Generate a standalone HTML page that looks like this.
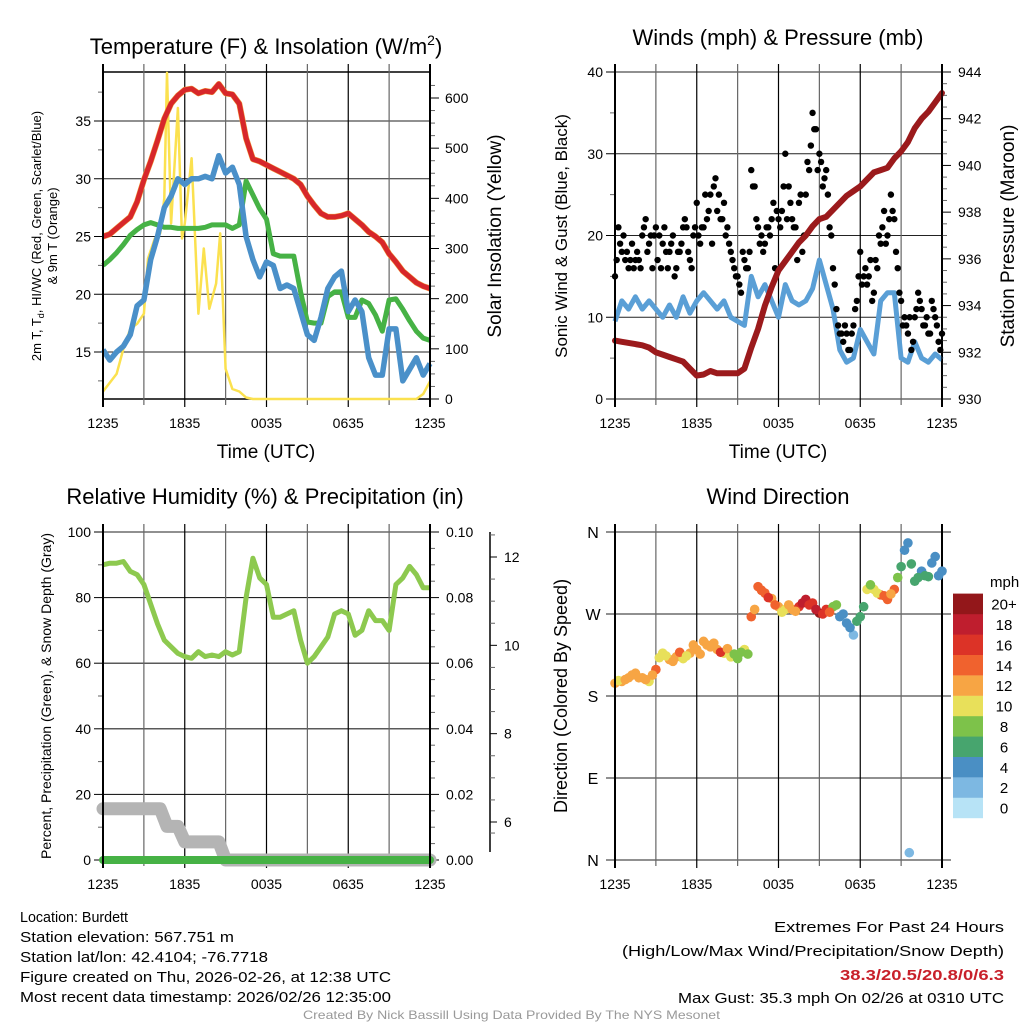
<!DOCTYPE html>
<html><head><meta charset="utf-8"><style>
html,body{margin:0;padding:0;background:#fff;}
svg{display:block;font-family:"Liberation Sans",sans-serif;}
</style></head><body>
<svg id="chart" width="1024" height="1024" viewBox="0 0 1024 1024" xmlns="http://www.w3.org/2000/svg">
<rect width="1024" height="1024" fill="#fff"/>
<g id="g-tl"></g>
<g id="g-tr"></g>
<g id="g-bl"></g>
<g id="g-br"></g>
<g id="g-txt">
<text x="20" y="922" font-size="15" textLength="108" lengthAdjust="spacingAndGlyphs">Location: Burdett</text>
<text x="20" y="942" font-size="15" textLength="214" lengthAdjust="spacingAndGlyphs">Station elevation: 567.751 m</text>
<text x="20" y="962" font-size="15" textLength="248" lengthAdjust="spacingAndGlyphs">Station lat/lon: 42.4104; -76.7718</text>
<text x="20" y="982" font-size="15" textLength="371" lengthAdjust="spacingAndGlyphs">Figure created on Thu, 2026-02-26, at 12:38 UTC</text>
<text x="20" y="1002" font-size="15" textLength="371" lengthAdjust="spacingAndGlyphs">Most recent data timestamp: 2026/02/26 12:35:00</text>
<text x="774" y="932" font-size="15" textLength="230" lengthAdjust="spacingAndGlyphs">Extremes For Past 24 Hours</text>
<text x="622" y="956" font-size="15" textLength="382" lengthAdjust="spacingAndGlyphs">(High/Low/Max Wind/Precipitation/Snow Depth)</text>
<text x="840" y="980" font-size="15" font-weight="bold" fill="#c8202a" textLength="164" lengthAdjust="spacingAndGlyphs">38.3/20.5/20.8/0/6.3</text>
<text x="678" y="1003" font-size="15" textLength="326" lengthAdjust="spacingAndGlyphs">Max Gust: 35.3 mph On 02/26 at 0310 UTC</text>
<text x="303" y="1019" font-size="12" fill="#999" textLength="417" lengthAdjust="spacingAndGlyphs">Created By Nick Bassill Using Data Provided By The NYS Mesonet</text>
</g>
</svg>
<script>
// ---- data (hours since 1235 UTC) ----
const xTickLabels = ["1235","1835","0035","0635","1235"];
const tempTimes = [0,0.5,1,1.5,2,2.5,3,3.5,4,4.5,5,5.5,6,6.5,7,7.5,8,8.5,9,9.5,10,10.5,11,11.5,12,12.5,13,13.5,14,14.5,15,15.5,16,16.5,17,17.5,18,18.5,19,19.5,20,20.5,21,21.5,22,22.5,23,23.5,24];
const tempT = [25,25.2,25.7,26.2,26.7,28,29.9,31.5,33.3,35.2,36.5,37.2,37.7,37.8,37.4,37.6,37.5,38.2,37.4,37.3,36.5,33.5,31.7,31.5,31.2,30.9,30.6,30.3,30,29.5,28.5,27.7,27,26.7,26.7,26.8,27,26.5,26,25.4,25,24.5,23.5,22.8,22,21.5,21,20.7,20.5];
const tempTd = [22.5,23,23.6,24.3,25.1,25.6,26,26.2,26,25.8,25.8,25.7,25.7,25.7,25.7,25.8,26,26,26,25.7,26,29.8,28.6,27.4,26.5,23.5,23.3,23.3,23.3,20.2,17.6,17.5,17.5,19.8,20.2,20.2,18,18,19.5,19.2,18.2,16.8,19.5,19.6,18.7,17.7,16.8,16.2,16];
const tempWC = [15.2,14.3,15,15.5,16.5,19,19.5,23,25,27.5,28.5,30,29.5,30,30,30.2,30,32,30.5,31,29.5,25,23,21.5,22.8,22.5,20.5,20.8,20.5,18.5,16.5,16,18,20.5,21.5,22,18.5,19.5,18.5,14.5,13,13,17,17,12.5,13.5,14.5,13,14];
const solarTimes = [0,1,1.5,2,2.5,3,3.3,3.8,4.2,4.5,4.7,5,5.5,5.8,6,6.5,7,7.4,7.8,8.3,8.6,9,9.5,10,10.5,11,23,23.5,24];
const solarVals = [15,50,100,140,150,170,280,320,330,400,650,350,580,320,350,480,170,300,180,230,330,60,20,15,3,0,0,10,35];
const windTimes = tempTimes;
const windSpeed = [9.5,12,11,12.5,11,12,11,10,11.5,10,12.5,10.5,12,13,12,11,12,10,9.5,9,15,12.5,14,12,10,14,12,11.5,12,13.5,17,14,11,6,4.5,5,8.5,7,5.5,12,13,13,5,4.5,7,5,4.5,5.5,4.8];
const pressure = [932.5,932.45,932.4,932.35,932.3,932.2,932.0,931.9,931.8,931.7,931.6,931.3,931.0,931.05,931.2,931.1,931.1,931.1,931.1,931.3,932.2,933.0,934.0,934.8,935.5,935.9,936.3,936.7,937.0,937.4,937.7,937.8,938.1,938.4,938.7,938.9,939.1,939.4,939.7,939.8,939.9,940.3,940.6,941.0,941.6,942.0,942.3,942.7,943.1];
const gustA = [15,21,18,17,16,19,17,17, 20,22,19,16,21,20,19,18, 18,20,16,18,21,21,17,20, 24,19,21,22,25,26,23,22, 24,21,18,16,15,13,17,16, 28,26,21,20,19,21,22,16, 22,23,30,26,22,21,24,18, 25,28,35,33,30,26,28,21, 16,11,8,7,8,6,9,12, 18,15,14,17,13,16,19,23, 20,25,22,16,12,10,8,6, 10,13,11,9,8,12,10,7, 8];
const gustB = [17,19,20,18,17,16,18,16, 21,18,20,20,17,16,21,16, 19,15,18,19,22,18,16,21, 20,21,25,23,19,27,25,22, 20,19,17,15,14,18,16,18, 26,22,19,18,21,20,24,23, 21,26,22,24,21,17,25,20, 29,31,33,28,29,27,25,20, 14,9,8,9,6,8,11,15, 14,16,15,12,17,20,21,19, 22,23,18,13,9,9,10,7, 11,12,9,10,8,11,9,6];
const rhVals = [90,90.5,90.5,91,88,87,84,78,72,67,65,63,62,61.5,63.5,62,62.5,62,63.5,62.5,63.5,80,92,86,84,74,74,75,76,67,60,62,65,68,75,76,75,68.5,70,76,73,73,70,84,86,89.5,87,83,83];
const snowTimes = [0,4.2,4.7,5.5,6,8.5,9,24];
const snowVals = [6.3,6.3,5.9,5.9,5.55,5.55,5.0,5.0];
const precipTimes = [0,24];
const precipVals = [0,0];
const dirA = [194,196,200,205,200,196,209,227,220,223,221,227,231,240,234,231,227,223,221,231,267,300,293,287,278,275,275,278,286,282,271,275,278,267,260,247,267,297,297,291,286,297,322,348,306,317,311,333,317];
const spdA = [12,12,13,12,12,11,14,10,12,12,10,12,12,12,12,12,10,10,8,10,14,15,14,12,12,10,12,16,18,17,20,16,9,4,4,3,6,10,10,14,14,14,6,4,6,5,6,4,4];
const dirB = [197,198,203,200,198,203,222,224,218,228,224,236,226,236,238,228,232,226,228,226,275,296,288,280,272,280,273,282,280,275,270,272,280,270,255,262,278,302,293,290,292,310,340,325,310,312,326,312];
const spdB = [10,12,12,13,12,12,10,11,12,14,11,12,12,13,12,16,12,8,8,8,12,14,16,14,10,13,12,18,16,18,16,14,8,4,4,6,6,8,10,14,12,8,4,6,7,6,5,4];
const dirOutlier = [8];
const spdOutlier = [2];
const outlierTimes = [21.6];
const colorBins = ["0","2","4","6","8","10","12","14","16","18","20+"];
const colorVals = ["#b7e3f6","#7db8e2","#4a8fc4","#47a56e","#7dc24a","#e8e05a","#f7a544","#f0622e","#dc3327","#bf1e2e","#93171a"];

// ---- helpers ----
const NS="http://www.w3.org/2000/svg";
function mk(parent,tag,attrs){const e=document.createElementNS(NS,tag);for(const k in attrs)e.setAttribute(k,attrs[k]);parent.appendChild(e);return e;}
function txt(parent,x,y,s,size,anchor,extra){const t=mk(parent,'text',Object.assign({x:x,y:y,'font-size':size,'text-anchor':anchor||'start'},extra||{}));t.textContent=s;return t;}
function lin(a,b,c,d){return v=>c+(v-a)*(d-c)/(b-a);}
function pathD(xs,ys,X,Y){return xs.map((t,i)=>(i?'L':'M')+X(t).toFixed(1)+','+Y(ys[i]).toFixed(1)).join('');}
function colorFor(s){let i=Math.floor(s/2);if(i<0)i=0;if(i>10)i=10;return colorVals[i];}

function frame(g,L,R,T,B,X){
  for(let h=0;h<=24;h+=3){
    const x=X(h);
    const l=mk(g,'line',{x1:x,x2:x,y1:T-8,y2:B+(h%6===0?8:6),stroke:(h%6===0?'#000':'#666'),'stroke-width':(h===0||h===24)?2:1.2});
    
    
  }
  xTickLabels.forEach((s,i)=>{const t=txt(g,X(i*6),B+29,s,14,'middle');});
}
function leftAxis(g,L,T,B,Y,major,minor,labels){
  major.forEach((v,i)=>{const y=Y(v);
    const l=mk(g,'line',{x1:L-9,x2:L,y1:y,y2:y,stroke:'#000','stroke-width':1});
    
    const t=txt(g,L-12,y+5,labels[i],14,'end');});
  minor.forEach(v=>{const y=Y(v);mk(g,'line',{x1:L-5,x2:L,y1:y,y2:y,stroke:'#666','stroke-width':1});});
}
function rightAxis(g,R,Y,major,minor,labels,lx){
  major.forEach((v,i)=>{const y=Y(v);
    const l=mk(g,'line',{x1:R,x2:R+9,y1:y,y2:y,stroke:'#000','stroke-width':1});
    
    const t=txt(g,lx,y+5,labels[i],14,'start');});
  minor.forEach(v=>{const y=Y(v);mk(g,'line',{x1:R,x2:R+5,y1:y,y2:y,stroke:'#666','stroke-width':1});});
}
function hgrid(g,L,R,Y,vals){vals.forEach(v=>{const l=mk(g,'line',{x1:L,x2:R,y1:Y(v),y2:Y(v),stroke:'#222','stroke-width':1.1});});}
function rotText(g,x,y,s,size,name){const t=mk(g,'text',{x:0,y:0,'font-size':size,'text-anchor':'middle',transform:`translate(${x},${y}) rotate(-90)`});t.textContent=s;return t;}

// ===== Panel 1: Temperature =====
(function(){
  const g=document.getElementById('g-tl');const L=103,R=430,T=72,B=399;
  const X=lin(0,24,L,R), Y=lin(15,35,352,121), Ys=lin(0,600,399,98);
  const ti=txt(g,266,54,'Temperature (F) & Insolation (W/m',22,'middle');
  
  const sup=mk(ti,'tspan',{dy:-9,'font-size':14});sup.textContent='2';
  const cl=mk(ti,'tspan',{dy:9});cl.textContent=')';
  hgrid(g,L,R,Y,[15,20,25,30,35]);
  mk(g,'line',{x1:L,x2:R,y1:T,y2:T,stroke:'#000','stroke-width':1.5});
  mk(g,'line',{x1:L,x2:R,y1:B,y2:B,stroke:'#000','stroke-width':1.5});
  frame(g,L,R,T,B,X);
  leftAxis(g,L,T,B,Y,[15,20,25,30,35],[12.5,17.5,22.5,27.5,32.5,37.5],['15','20','25','30','35']);
  rightAxis(g,R,Ys,[0,100,200,300,400,500,600],[25,50,75,125,150,175,225,250,275,325,350,375,425,450,475,525,550,575,625],['0','100','200','300','400','500','600'],445);
  const sol=mk(g,'path',{d:pathD(solarTimes,solarVals,X,Ys),fill:'none',stroke:'#fbe14f','stroke-width':2.5,'stroke-linejoin':'round'});
  
  const td=mk(g,'path',{d:pathD(tempTimes,tempTd,X,Y),fill:'none',stroke:'#46b245','stroke-width':5,'stroke-linejoin':'round'});
  
  const wc=mk(g,'path',{d:pathD(tempTimes,tempWC,X,Y),fill:'none',stroke:'#4a90c9','stroke-width':5.5,'stroke-linejoin':'round'});
  
  const t9=mk(g,'path',{d:pathD(tempTimes,tempT,X,Y),fill:'none',stroke:'#f29b3a','stroke-width':6,'stroke-linejoin':'round'});
  
  const tt=mk(g,'path',{d:pathD(tempTimes,tempT,X,Y),fill:'none',stroke:'#d7272a','stroke-width':5,'stroke-linejoin':'round'});
  
  mk(g,'line',{x1:L,x2:L,y1:T-8,y2:B+8,stroke:'#000','stroke-width':2});
  mk(g,'line',{x1:R,x2:R,y1:T-8,y2:B+8,stroke:'#000','stroke-width':2});
  const xt=txt(g,266,458,'Time (UTC)',19,'middle');
  const yt=rotText(g,41,236,'2m T, T',13,'y-axis-title');
  const sb=mk(yt,'tspan',{dy:3,'font-size':9});sb.textContent='d';
  const rest=mk(yt,'tspan',{dy:-3});rest.textContent=', HI/WC (Red, Green, Scarlet/Blue)';
  rotText(g,57,236,'& 9m T (Orange)',13,'y-axis-title-line2');
  rotText(g,501,236,'Solar Insolation (Yellow)',19,'y2-axis-title');
})();

// ===== Panel 2: Winds & Pressure =====
(function(){
  const g=document.getElementById('g-tr');const L=615,R=942,T=72,B=399;
  const X=lin(0,24,L,R), Y=lin(0,40,B,T), Yp=lin(930,944,B,T);
  const ti=txt(g,778,45,'Winds (mph) & Pressure (mb)',22,'middle');
  hgrid(g,L,R,Y,[0,10,20,30,40]);
  frame(g,L,R,T,B,X);
  leftAxis(g,L,T,B,Y,[0,10,20,30,40],[5,15,25,35],['0','10','20','30','40']);
  rightAxis(g,R,Yp,[930,932,934,936,938,940,942,944],[930.5,931,931.5,932.5,933,933.5,934.5,935,935.5,936.5,937,937.5,938.5,939,939.5,940.5,941,941.5,942.5,943,943.5],['930','932','934','936','938','940','942','944'],958);
  const w=mk(g,'path',{d:pathD(windTimes,windSpeed,X,Y),fill:'none',stroke:'#5a9fd6','stroke-width':5,'stroke-linejoin':'round'});
  
  gustA.forEach((v,i)=>{const c=mk(g,'circle',{cx:X(i*0.25),cy:Y(v),r:3.2,fill:'#000'});
    });
  gustB.forEach((v,i)=>{const c=mk(g,'circle',{cx:X(i*0.25+0.125),cy:Y(v),r:3.2,fill:'#000'});
    });
  const p=mk(g,'path',{d:pathD(windTimes,pressure,X,Yp),fill:'none',stroke:'#9b1a1c','stroke-width':6,'stroke-linejoin':'round','stroke-linecap':'round'});
  
  mk(g,'line',{x1:L,x2:L,y1:T-8,y2:B+8,stroke:'#000','stroke-width':2});
  mk(g,'line',{x1:R,x2:R,y1:T-8,y2:B+8,stroke:'#000','stroke-width':1.5});
  const xt=txt(g,778,458,'Time (UTC)',19,'middle');
  rotText(g,567,236,'Sonic Wind & Gust (Blue, Black)',17,'y-axis-title');
  rotText(g,1014,236,'Station Pressure (Maroon)',19,'y2-axis-title');
})();

// ===== Panel 3: RH & Precip =====
(function(){
  const g=document.getElementById('g-bl');const L=103,R=430,T=532,B=860;
  const X=lin(0,24,L,R), Y=lin(0,100,B,T), Yr=lin(0,0.1,B,T), Ysn=lin(6,12,822,557);
  const ti=txt(g,265,504,'Relative Humidity (%) & Precipitation (in)',22,'middle');
  hgrid(g,L,R,Y,[0,20,40,60,80,100]);
  frame(g,L,R,T,B,X);
  leftAxis(g,L,T,B,Y,[0,20,40,60,80,100],[10,30,50,70,90],['0','20','40','60','80','100']);
  rightAxis(g,R,Yr,[0,0.02,0.04,0.06,0.08,0.1],[0.005,0.01,0.015,0.025,0.03,0.035,0.045,0.05,0.055,0.065,0.07,0.075,0.085,0.09,0.095],['0.00','0.02','0.04','0.06','0.08','0.10'],446);
  mk(g,'line',{x1:490,x2:490,y1:T,y2:B-8,stroke:'#000','stroke-width':1.5});
  [6,8,10,12].forEach(v=>{mk(g,'line',{x1:490,x2:497,y1:Ysn(v),y2:Ysn(v),stroke:'#000'});
    const t=txt(g,504,Ysn(v)+5,String(v),14,'start');});
  [5.75,6.5,7,7.5,8.5,9,9.5,10.5,11,11.5,12.5].forEach(v=>mk(g,'line',{x1:490,x2:495,y1:Ysn(v),y2:Ysn(v),stroke:'#666'}));
  const YsnC=v=>Math.min(Ysn(v),B);
  const sd=mk(g,'path',{d:pathD(snowTimes,snowVals,X,YsnC),fill:'none',stroke:'#b4b4b4','stroke-width':13,'stroke-linejoin':'round','stroke-linecap':'round'});
  
  const pr=mk(g,'path',{d:pathD(precipTimes,precipVals,X,Yr),fill:'none',stroke:'#46b245','stroke-width':8,'stroke-linecap':'round'});
  
  const rh=mk(g,'path',{d:pathD(tempTimes,rhVals,X,Y),fill:'none',stroke:'#8dc94f','stroke-width':5,'stroke-linejoin':'round'});
  
  mk(g,'line',{x1:L,x2:L,y1:T-8,y2:B+8,stroke:'#000','stroke-width':2});
  mk(g,'line',{x1:R,x2:R,y1:T-8,y2:B+8,stroke:'#000','stroke-width':2});
  rotText(g,51,696,'Percent, Precipitation (Green), & Snow Depth (Gray)',14,'y-axis-title');
})();

// ===== Panel 4: Wind direction =====
(function(){
  const g=document.getElementById('g-br');const L=615,R=942,T=532,B=860;
  const X=lin(0,24,L,R), Y=lin(0,360,B,T);
  const ti=txt(g,778,504,'Wind Direction',22,'middle');
  const dirLabels=['N','E','S','W','N'];
  [0,90,180,270,360].forEach((v,i)=>{const y=Y(v);
    const l=mk(g,'line',{x1:L-9,x2:R+9,y1:y,y2:y,stroke:'#222','stroke-width':1.1});
    const t=txt(g,593,y+6,dirLabels[i],16,'middle');});
  frame(g,L,R,T,B,X);
  function dot(h,d,s){const c=mk(g,'circle',{cx:X(h),cy:Y(d),r:4.8,fill:colorFor(s)});
    
    }
  dirA.forEach((d,i)=>dot(i*0.5,d,spdA[i]));
  dirB.forEach((d,i)=>dot(i*0.5+0.25,d,spdB[i]));
  dirOutlier.forEach((d,i)=>dot(outlierTimes[i],d,spdOutlier[i]));
  mk(g,'line',{x1:L,x2:L,y1:T-8,y2:B+8,stroke:'#000','stroke-width':2});
  rotText(g,567,696,'Direction (Colored By Speed)',18,'y-axis-title');
  const lg=mk(g,'g',{});
  const lt=txt(lg,990,587,'mph',15,'start');
  colorVals.forEach((c,i)=>{const y=818-(i+1)*20.4;
    const r=mk(lg,'rect',{x:953,y:y,width:30,height:20.6,fill:c});
    const t=txt(lg,1004,y+16,colorBins[i],15,'middle');});
})();
</script>
</body></html>
